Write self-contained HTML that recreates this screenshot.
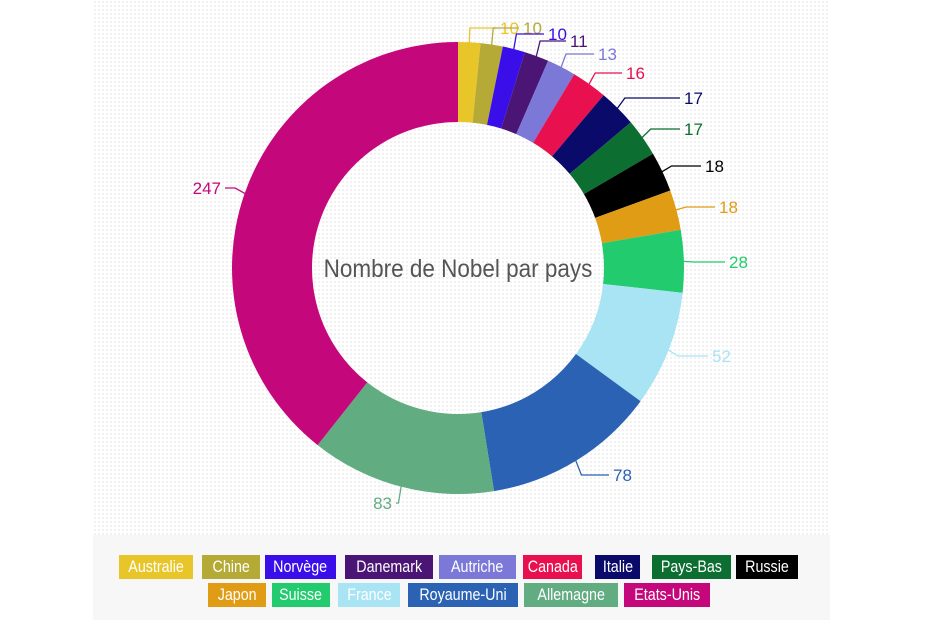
<!DOCTYPE html>
<html><head><meta charset="utf-8">
<style>
html,body{margin:0;padding:0;background:#fff;}
body{width:930px;height:620px;position:relative;overflow:hidden;font-family:"Liberation Sans Narrow","Liberation Sans",sans-serif;}
#bg{position:absolute;left:93px;top:0;width:737px;height:535px;background-color:#fff;background-image:radial-gradient(circle,#ececec 0.8px,transparent 1px);background-size:4px 4px;}
#leg{position:absolute;left:93px;top:535px;width:737px;height:85px;background:#f7f7f7;}
.lb{position:absolute;height:24px;line-height:24px;color:#fff;font-size:17px;text-align:center;white-space:nowrap;overflow:visible;}
.lb span{display:inline-block;transform:scaleX(0.84);}
svg{position:absolute;left:0;top:0;}
</style></head><body>
<div id="bg"></div>
<div id="leg"></div>
<svg id="s" width="930" height="620" font-family="Liberation Sans Narrow, Liberation Sans, sans-serif"></svg>
<div class="lb" style="left:119px;top:555px;width:74px;background:#e8c62a"><span>Australie</span></div>
<div class="lb" style="left:202px;top:555px;width:58px;background:#b5aa35"><span>Chine</span></div>
<div class="lb" style="left:265px;top:555px;width:71px;background:#3a0ee8"><span>Norvège</span></div>
<div class="lb" style="left:345px;top:555px;width:88px;background:#4a1574"><span>Danemark</span></div>
<div class="lb" style="left:439px;top:555px;width:77px;background:#7b78d8"><span>Autriche</span></div>
<div class="lb" style="left:523px;top:555px;width:59px;background:#e8104f"><span>Canada</span></div>
<div class="lb" style="left:595px;top:555px;width:45px;background:#0a0a6a"><span>Italie</span></div>
<div class="lb" style="left:652px;top:555px;width:79px;background:#0c6e30"><span>Pays-Bas</span></div>
<div class="lb" style="left:736px;top:555px;width:62px;background:#000"><span>Russie</span></div>
<div class="lb" style="left:208px;top:583px;width:58px;background:#e09c14"><span>Japon</span></div>
<div class="lb" style="left:272px;top:583px;width:58px;background:#22cc6e"><span>Suisse</span></div>
<div class="lb" style="left:338px;top:583px;width:62px;background:#a8e4f4"><span>France</span></div>
<div class="lb" style="left:408px;top:583px;width:110px;background:#2b62b4"><span>Royaume-Uni</span></div>
<div class="lb" style="left:524px;top:583px;width:94px;background:#62ac82"><span>Allemagne</span></div>
<div class="lb" style="left:624px;top:583px;width:86px;background:#c4087c"><span>Etats-Unis</span></div>
<script>
var d=[[10,'#e8c62a',500,28],[10,'#b5aa35',523,28],[10,'#3a0ee8',548,34],[11,'#4a1574',570,41],[13,'#7b78d8',598,54],[16,'#e8104f',626,73],[17,'#0a0a6a',684,98],[17,'#0c6e30',684,129],[18,'#000',705,166],[18,'#e09c14',719,207],[28,'#22cc6e',729,262],[52,'#a8e4f4',712,356],[78,'#2b62b4',613,475],[83,'#62ac82',368,503],[247,'#c4087c',197,188]];
var cx=458,cy=268,R=226,r=146,tot=628,a=0,h='';
function p(ang,rad){return [cx+rad*Math.sin(ang),cy-rad*Math.cos(ang)];}
d.forEach(function(e){
 var a0=a/tot*2*Math.PI;a+=e[0];var a1=a/tot*2*Math.PI;var lg=(a1-a0)>Math.PI?1:0;
 var o0=p(a0,R),o1=p(a1,R),i1=p(a1,r),i0=p(a0,r);
 h+='<path d="M'+o0+' A'+R+','+R+' 0 '+lg+' 1 '+o1+' L'+i1+' A'+r+','+r+' 0 '+lg+' 0 '+i0+'Z" fill="'+e[1]+'"/>';
 var am=(a0+a1)/2,m=p(am,R-2),q=p(am,R+10);
 var left=e[2]<cx,ly=e[3];
 h+='<polyline points="'+m+' '+q[0]+','+ly+' '+(left?e[2]+28:e[2]-4)+','+ly+'" fill="none" stroke="'+e[1]+'" stroke-width="1.3"/>';
 h+='<text x="'+(left?e[2]+24:e[2])+'" y="'+(ly+6)+'" font-size="17" fill="'+e[1]+'" text-anchor="'+(left?'end':'start')+'">'+e[0]+'</text>';
});
h+='<text transform="translate('+cx+','+(cy+9)+') scale(0.9,1)" font-size="25" fill="#555" text-anchor="middle">Nombre de Nobel par pays</text>';
document.getElementById('s').innerHTML=h;
</script>
</body></html>
